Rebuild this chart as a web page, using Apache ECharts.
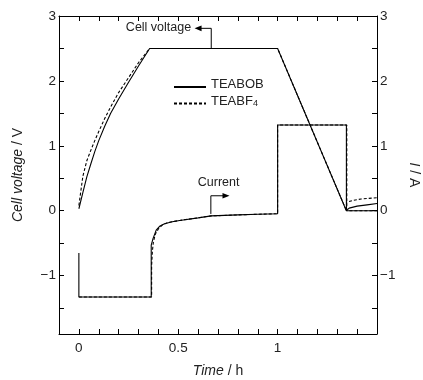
<!DOCTYPE html>
<html>
<head>
<meta charset="utf-8">
<script src="https://cdn.jsdelivr.net/npm/echarts@6/dist/echarts.min.js"></script>
<style>
  html, body { margin: 0; padding: 0; background: #fff; }
  #chart { width: 423px; height: 380px; }
</style>
</head>
<body>
<div id="chart"></div>
<script>
// cell voltage, TEABOB (solid)
var voltBobTime  = [0, 0.02, 0.04, 0.06, 0.08, 0.10, 0.13, 0.16, 0.20, 0.25, 0.30, 0.356, 1.0, 1.346, 1.36, 1.40, 1.45, 1.50];
var voltBobValue = [0.03, 0.28, 0.52, 0.72, 0.91, 1.08, 1.30, 1.50, 1.72, 1.98, 2.23, 2.50, 2.50, 0.0, 0.04, 0.07, 0.09, 0.11];
// cell voltage, TEABF4 (dashed)
var voltBf4Time  = [0, 0.02, 0.04, 0.06, 0.08, 0.10, 0.13, 0.16, 0.20, 0.25, 0.30, 0.356, 1.0, 1.346, 1.347, 1.38, 1.42, 1.50];
var voltBf4Value = [0.08, 0.53, 0.77, 0.93, 1.08, 1.22, 1.42, 1.60, 1.82, 2.05, 2.28, 2.50, 2.50, 0.0, 0.13, 0.16, 0.18, 0.20];
// current, TEABOB (solid)
var currBobTime  = [0, 0, 0.364, 0.364, 0.373, 0.389, 0.406, 0.431, 0.47, 0.507, 0.6, 0.666, 0.8, 0.9, 1.0, 1.0, 1.346, 1.346, 1.5];
var currBobValue = [-0.65, -1.33, -1.33, -0.53, -0.43, -0.30, -0.24, -0.20, -0.17, -0.15, -0.11, -0.08, -0.065, -0.055, -0.046, 1.32, 1.32, 0, 0];
// current, TEABF4 (dashed)
var currBf4Time  = [0, 0.366, 0.366, 0.37, 0.375, 0.385, 0.40, 0.42, 0.45, 0.507, 0.6, 0.666, 0.8, 0.9, 1.0, 1.0, 1.348, 1.348, 1.5];
var currBf4Value = [-1.33, -1.33, -0.85, -0.62, -0.48, -0.36, -0.28, -0.22, -0.18, -0.15, -0.11, -0.08, -0.065, -0.055, -0.046, 1.32, 1.32, 0, 0];

// axis ticks and labels
var xLabels = [0, 0.5, 1];
var yTicks  = [-1.5, -1, -0.5, 0, 0.5, 1, 1.5, 2, 2.5, 3];
var yLabels = [-1, 0, 1, 2, 3];

// annotation anchors in data units
var cellArrow = [[0.666, 2.5], [0.666, 2.81], [0.582, 2.81]];
var cellText  = [0.565, 2.82];
var currArrow = [[0.664, -0.05], [0.664, 0.23], [0.758, 0.23]];
var currText  = [0.703, 0.44];

function pairs(t, v) {
  return t.map(function (x, i) { return [x, v[i]]; });
}

function fmt(v) {
  return v < 0 ? '\u2212' + (-v) : String(v);
}

var textColor = '#222';
var fontFamily = '"Liberation Sans", Arial, sans-serif';

var chart = echarts.init(document.getElementById('chart'));

function tick(values) {
  var t = { show: true, inside: true, length: 5, lineStyle: { color: '#000', width: 1 } };
  if (values) t.customValues = values;
  return t;
}

chart.setOption({
  animation: false,
  textStyle: { fontFamily: fontFamily },
  grid: { left: 59, right: 46, top: 16, bottom: 46, outerBoundsMode: 'none' },
  legend: {
    orient: 'vertical',
    left: 168,
    top: 73,
    itemWidth: 32,
    itemHeight: 14,
    itemGap: 2,
    data: ['TEABOB', 'TEABF4'],
    itemStyle: { color: 'transparent', borderWidth: 0, opacity: 0 },
    formatter: function (name) {
      return name === 'TEABF4' ? '{a|TEABF}{s|4}' : '{a|' + name + '}';
    },
    textStyle: {
      color: textColor,
      fontSize: 13,
      rich: {
        a: { fontSize: 13, color: textColor, padding: [0, 0, 5, 0] },
        s: { fontSize: 9, color: textColor }
      }
    }
  },
  xAxis: [
    {
      type: 'value',
      min: -0.1,
      max: 1.5,
      interval: 0.1,
      name: '{i|Time} / h',
      nameLocation: 'middle',
      nameGap: 30,
      nameTextStyle: {
        fontSize: 14, color: textColor,
        rich: { i: { fontSize: 14, fontStyle: 'italic', color: textColor } }
      },
      axisLine: { show: true, onZero: false, lineStyle: { color: '#000' } },
      axisTick: tick(),
      axisLabel: { customValues: xLabels, margin: 7, fontSize: 13.5, color: textColor, formatter: fmt },
      splitLine: { show: false }
    },
    {
      type: 'value',
      position: 'top',
      min: -0.1,
      max: 1.5,
      interval: 0.1,
      axisLine: { show: true, onZero: false, lineStyle: { color: '#000' } },
      axisTick: tick(),
      axisLabel: { show: false },
      splitLine: { show: false }
    }
  ],
  yAxis: [
    {
      type: 'value',
      min: -1.9,
      max: 3,
      name: '{i|Cell voltage} / V',
      nameLocation: 'middle',
      nameGap: 34,
      nameTextStyle: {
        fontSize: 14, color: textColor,
        rich: { i: { fontSize: 14, fontStyle: 'italic', color: textColor } }
      },
      axisLine: { show: true, onZero: false, lineStyle: { color: '#000' } },
      axisTick: tick(yTicks),
      axisLabel: { customValues: yLabels, margin: 3, fontSize: 13.5, color: textColor, formatter: fmt },
      splitLine: { show: false }
    },
    {
      type: 'value',
      position: 'right',
      min: -1.9,
      max: 3,
      name: '{i|I} / A',
      nameLocation: 'middle',
      nameRotate: -90,
      nameGap: 30,
      nameTextStyle: {
        fontSize: 14, color: textColor,
        rich: { i: { fontSize: 14, fontStyle: 'italic', color: textColor } }
      },
      axisLine: { show: true, onZero: false, lineStyle: { color: '#000' } },
      axisTick: tick(yTicks),
      axisLabel: { customValues: yLabels, margin: 3, fontSize: 13.5, color: textColor, formatter: fmt },
      splitLine: { show: false }
    }
  ],
  series: [
    {
      name: 'TEABOB', type: 'line', yAxisIndex: 0, symbol: 'none',
      lineStyle: { color: '#000', width: 1.1 },
      itemStyle: { color: '#000' },
      data: pairs(voltBobTime, voltBobValue)
    },
    {
      name: 'TEABF4', type: 'line', yAxisIndex: 0, symbol: 'none',
      lineStyle: { color: '#000', width: 1.1, type: [3, 2] },
      itemStyle: { color: '#000' },
      data: pairs(voltBf4Time, voltBf4Value)
    },
    {
      name: 'TEABOB', type: 'line', yAxisIndex: 1, symbol: 'none',
      lineStyle: { color: '#000', width: 1.1 },
      itemStyle: { color: '#000' },
      data: pairs(currBobTime, currBobValue)
    },
    {
      name: 'TEABF4', type: 'line', yAxisIndex: 1, symbol: 'none',
      lineStyle: { color: '#000', width: 1.1, type: [3, 2] },
      itemStyle: { color: '#000' },
      data: pairs(currBf4Time, currBf4Value)
    }
  ]
});

// annotations: elbow arrows and labels, placed through the axes
function px(p) {
  return chart.convertToPixel({ xAxisIndex: 0, yAxisIndex: 0 }, p);
}

function arrow(pts) {
  var p = pts.map(px);
  var tip = p[p.length - 1];
  var prev = p[p.length - 2];
  var dir = tip[0] > prev[0] ? 1 : -1;
  return [
    {
      type: 'polyline',
      shape: { points: [p[0], p[1], [tip[0] - dir * 6, tip[1]]] },
      style: { stroke: '#000', lineWidth: 1, fill: null }
    },
    {
      type: 'polygon',
      shape: { points: [tip, [tip[0] - dir * 7, tip[1] - 2.8], [tip[0] - dir * 7, tip[1] + 2.8]] },
      style: { fill: '#000' }
    }
  ];
}

var cp = px(cellText);
var kp = px(currText);

chart.setOption({
  graphic: arrow(cellArrow).concat(arrow(currArrow)).concat([
    {
      type: 'text', x: cp[0], y: cp[1],
      style: { text: 'Cell voltage', fill: textColor, font: '12.5px ' + fontFamily, align: 'right', verticalAlign: 'middle' }
    },
    {
      type: 'text', x: kp[0], y: kp[1],
      style: { text: 'Current', fill: textColor, font: '12.5px ' + fontFamily, align: 'center', verticalAlign: 'middle' }
    }
  ])
});
</script>
</body>
</html>
